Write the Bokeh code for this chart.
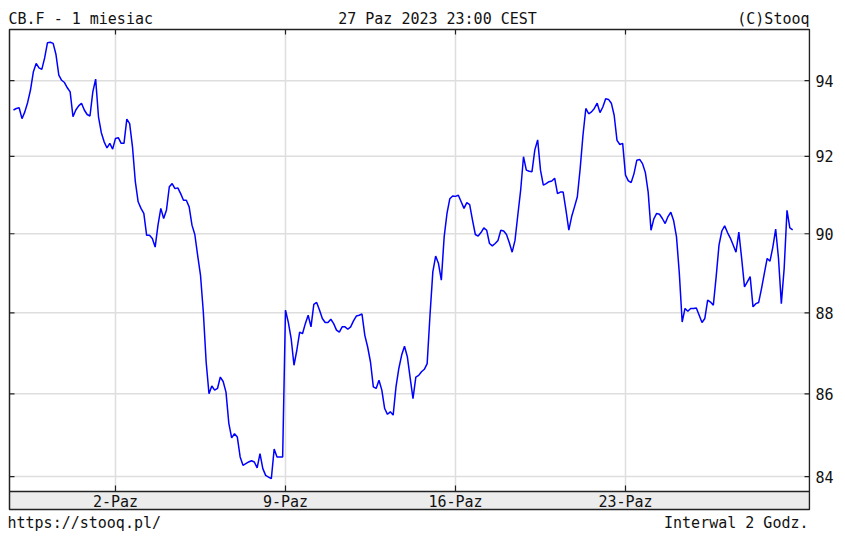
import math
from bokeh.plotting import figure
from bokeh.models import Range1d, FixedTicker, BasicTickFormatter, Label
from bokeh.embed import file_html
from bokeh.resources import INLINE

# ---------------- data ----------------
trading_days = ["2023-09-27", "2023-09-28", "2023-09-29",
                "2023-10-02", "2023-10-03", "2023-10-04", "2023-10-05", "2023-10-06",
                "2023-10-09", "2023-10-10", "2023-10-11", "2023-10-12", "2023-10-13",
                "2023-10-16", "2023-10-17", "2023-10-18", "2023-10-19", "2023-10-20",
                "2023-10-23", "2023-10-24", "2023-10-25", "2023-10-26", "2023-10-27"]
bar_hours = [0, 2, 4, 6, 8, 10, 12, 14, 16, 18, 20, 22]

prices = [
    93.22, 93.26, 93.28, 92.99, 93.17, 93.42, 93.75, 94.23, 94.46, 94.34, 94.30, 94.61,
    95.02, 95.03, 95.00, 94.70, 94.15, 94.01, 93.95, 93.81, 93.70, 93.04, 93.22, 93.33,
    93.40, 93.22, 93.10, 93.06, 93.70, 94.04, 93.04, 92.62, 92.38, 92.22, 92.34, 92.19,
    92.47, 92.49, 92.34, 92.34, 92.98, 92.86, 92.25, 91.34, 90.82, 90.65, 90.52, 89.96,
    89.96, 89.88, 89.66, 90.22, 90.65, 90.39, 90.61, 91.21, 91.29, 91.16, 91.18, 91.03,
    90.86, 90.86, 90.69, 90.22, 89.98, 89.45, 88.95, 88.02, 86.78, 86.00, 86.19, 86.09,
    86.13, 86.41, 86.30, 86.04, 85.28, 84.93, 85.03, 84.95, 84.47, 84.27, 84.31, 84.35,
    84.38, 84.35, 84.21, 84.55, 84.19, 84.03, 83.99, 83.95, 84.66, 84.47, 84.47, 84.47,
    88.07, 87.76, 87.36, 86.70, 87.07, 87.52, 87.48, 87.73, 87.94, 87.65, 88.21, 88.26,
    88.07, 87.86, 87.76, 87.76, 87.84, 87.73, 87.57, 87.52, 87.65, 87.65, 87.59, 87.65,
    87.80, 87.92, 87.94, 87.97, 87.44, 87.15, 86.78, 86.17, 86.13, 86.33, 86.09, 85.64,
    85.50, 85.56, 85.48, 86.17, 86.62, 86.95, 87.17, 86.91, 86.39, 85.88, 86.41, 86.45,
    86.54, 86.60, 86.74, 87.94, 89.03, 89.43, 89.24, 88.82, 89.92, 90.52, 90.90, 90.97,
    90.96, 90.99, 90.82, 90.65, 90.80, 90.75, 90.35, 89.98, 89.94, 90.03, 90.15, 90.09,
    89.75, 89.69, 89.75, 89.83, 90.09, 90.07, 89.98, 89.77, 89.53, 89.83, 90.48, 91.12,
    91.99, 91.64, 91.61, 91.60, 92.17, 92.43, 91.64, 91.25, 91.29, 91.34, 91.36, 91.43,
    91.03, 91.07, 91.07, 90.60, 90.09, 90.44, 90.69, 90.95, 91.68, 92.56, 93.26, 93.12,
    93.17, 93.26, 93.40, 93.15, 93.30, 93.52, 93.50, 93.40, 93.08, 92.42, 92.31, 92.34,
    91.51, 91.36, 91.32, 91.55, 91.90, 91.92, 91.81, 91.58, 91.07, 90.09, 90.38, 90.52,
    90.50, 90.39, 90.26, 90.44, 90.55, 90.33, 89.92, 88.99, 87.77, 88.11, 88.04, 88.11,
    88.11, 88.12, 87.94, 87.76, 87.86, 88.32, 88.27, 88.19, 88.91, 89.71, 90.07, 90.20,
    90.03, 89.89, 89.71, 89.53, 90.04, 89.37, 88.65, 88.78, 88.91, 88.15, 88.23, 88.26,
    88.61, 88.99, 89.37, 89.30, 89.66, 90.12, 89.37, 88.23, 89.12, 90.60, 90.15, 90.10,
]

tick_days = ["2023-10-02", "2023-10-09", "2023-10-16", "2023-10-23"]
tick_labels = ["2-Paz", "9-Paz", "16-Paz", "23-Paz"]
y_ticks = [84, 86, 88, 90, 92, 94]

title_left = "CB.F - 1 miesiac"
title_center = "27 Paz 2023 23:00 CEST"
title_right = "(C)Stooq"
footer_left = "https://stooq.pl/"
footer_right = "Interwal 2 Godz."

# ---------------- trading-time axis (weekends removed) ----------------
origin = trading_days.index("2023-10-02")
xs = []
for d_i, d in enumerate(trading_days):
    for h in bar_hours:
        xs.append(d_i - origin + h / 24.0)
xs = xs[:len(prices)]
tick_x = [trading_days.index(d) - origin for d in tick_days]

# ---------------- geometry / styling ----------------
FW, FH = 803, 532
x_start, x_end = -3.176, 20.441
y_start, y_end = 82.63, 96.11
FONT = "DejaVu Sans Mono"
FSIZE = "15px"
TXT = "#111111"
DARK = "#222222"
GRID = "#dedede"


def X(px):  # pixel offset from frame left -> data x
    return x_start + px * (x_end - x_start) / FW


def Y(px):  # pixel offset from frame bottom -> data y (log scale)
    return y_start * math.exp(px * math.log(y_end / y_start) / FH)


BOX_L, BOX_R = 2, 802
BOX_B, BAND_T, BOX_T = 25, 43, 505

p = figure(frame_width=FW, frame_height=FH,
           x_range=Range1d(x_start, x_end), y_range=Range1d(y_start, y_end),
           y_axis_type="log", y_axis_location="right", x_axis_location=None,
           output_backend="svg", toolbar_location=None, title=None,
           min_border_left=7, min_border_right=30,
           min_border_top=2, min_border_bottom=3)

p.background_fill_color = "white"
p.border_fill_color = "white"
p.outline_line_color = None

# right axis: labels only (frame and ticks are drawn below)
ticker = FixedTicker(ticks=y_ticks, minor_ticks=[])
p.yaxis.ticker = ticker
p.yaxis.formatter = BasicTickFormatter()
p.yaxis.major_tick_in = 0
p.yaxis.major_tick_out = 0
p.yaxis.minor_tick_line_color = None
p.yaxis.major_tick_line_color = None
p.yaxis.axis_line_color = None
p.yaxis.major_label_standoff = 5
p.yaxis.major_label_text_font = FONT
p.yaxis.major_label_text_font_size = FSIZE
p.yaxis.major_label_text_color = TXT
for g in p.grid:
    g.visible = False

nT, nY = len(tick_x), len(y_ticks)

# date band background
p.quad(left=X(BOX_L), right=X(BOX_R), bottom=Y(BOX_B), top=Y(BAND_T),
       fill_color="#ececec", line_color=None)

# grid lines
p.segment(x0=[X(BOX_L)] * nY, x1=[X(BOX_R)] * nY, y0=y_ticks, y1=y_ticks,
          line_color=GRID, line_width=1.5)
p.segment(x0=tick_x, x1=tick_x, y0=[Y(BAND_T)] * nT, y1=[Y(BOX_T)] * nT,
          line_color=GRID, line_width=1.5)

# price line
p.line(xs, prices, line_color="#0000ff", line_width=1.5)

# band top line and chart box
p.segment(x0=[X(BOX_L)], x1=[X(BOX_R)], y0=[Y(BAND_T)], y1=[Y(BAND_T)],
          line_color=DARK, line_width=1.5)
p.quad(left=X(BOX_L), right=X(BOX_R), bottom=Y(BOX_B), top=Y(BOX_T),
       fill_color=None, line_color=DARK, line_width=1.5)

# inner ticks
p.segment(x0=[X(BOX_L)] * nY, x1=[X(BOX_L + 5)] * nY, y0=y_ticks, y1=y_ticks,
          line_color=DARK, line_width=1.2)
p.segment(x0=[X(BOX_R - 5)] * nY, x1=[X(BOX_R)] * nY, y0=y_ticks, y1=y_ticks,
          line_color=DARK, line_width=1.2)
p.segment(x0=tick_x, x1=tick_x, y0=[Y(BOX_T)] * nT, y1=[Y(BOX_T - 5)] * nT,
          line_color=DARK, line_width=1.2)
p.segment(x0=tick_x, x1=tick_x, y0=[Y(BAND_T)] * nT, y1=[Y(BAND_T + 6)] * nT,
          line_color=DARK, line_width=1.2)

# date labels inside the band
for tx, tl in zip(tick_x, tick_labels):
    p.add_layout(Label(x=tx, y=33, x_units="data", y_units="screen", text=tl,
                       text_align="center", text_baseline="alphabetic",
                       text_font=FONT, text_font_size=FSIZE, text_color=TXT))


def add_text(x, y, text, align):
    p.add_layout(Label(x=x, y=y, x_units="screen", y_units="screen", text=text,
                       text_align=align, text_baseline="alphabetic",
                       text_font=FONT, text_font_size=FSIZE, text_color=TXT))


add_text(1, 516, title_left, "left")
add_text(430, 516, title_center, "center")
add_text(802, 516, title_right, "right")
add_text(0, 11.5, footer_left, "left")
add_text(801, 11.5, footer_right, "right")

open("out.html", "w").write(file_html(p, INLINE))
